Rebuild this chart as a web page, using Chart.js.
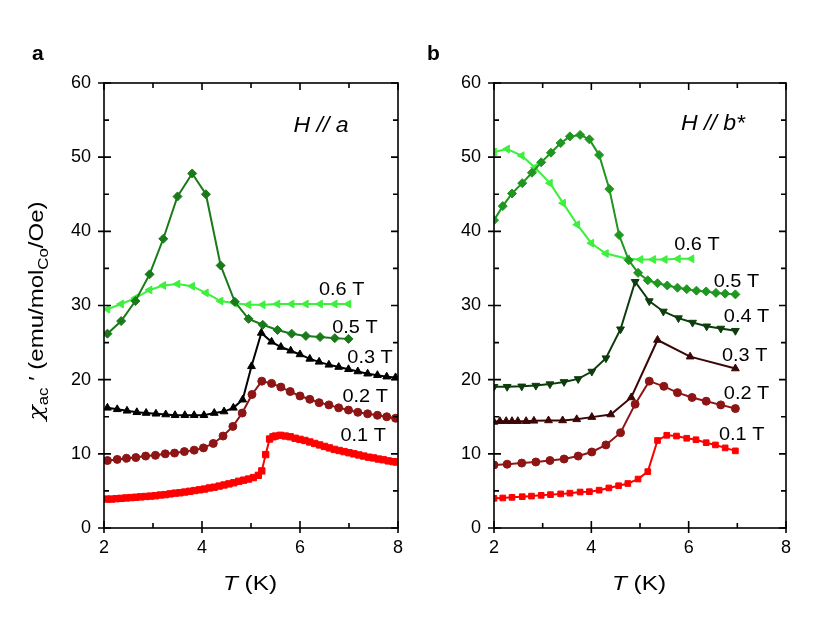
<!DOCTYPE html>
<html>
<head>
<meta charset="utf-8">
<script src="https://cdn.jsdelivr.net/npm/chart.js@4"></script>
<style>
body{margin:0;background:#fff;}
#wrap{position:relative;width:831px;height:636px;}
canvas{position:absolute;top:0;}
</style>
</head>
<body>
<div id="wrap">
<canvas id="cA" width="415" height="636" style="left:0"></canvas>
<canvas id="cB" width="416" height="636" style="left:415px"></canvas>
</div>
<script>
// panel a : H // a
var tA06 = [2.07,2.35,2.64,2.93,3.21,3.50,3.80,4.08,4.38,4.67,4.95,5.24,5.54,5.83,6.12,6.41,6.71,6.99];
var vA06 = [29.5,30.2,31.0,32.1,32.7,32.9,32.6,31.7,30.6,30.3,30.1,30.1,30.2,30.2,30.2,30.2,30.2,30.2];
var tA05 = [2.07,2.35,2.64,2.93,3.21,3.50,3.80,4.08,4.38,4.67,4.95,5.24,5.54,5.83,6.12,6.41,6.71,6.99];
var vA05 = [26.2,27.9,30.6,34.2,39.0,44.7,47.8,45.0,35.4,30.5,28.2,27.4,26.7,26.2,25.9,25.75,25.6,25.5];
var tA03 = [2.07,2.27,2.47,2.67,2.86,3.06,3.26,3.45,3.65,3.84,4.04,4.25,4.45,4.64,4.83,5.01,5.21,5.42,5.61,5.81,6.00,6.20,6.39,6.59,6.79,6.99,7.18,7.38,7.58,7.77,7.95];
var vA03 = [16.2,16.0,15.8,15.6,15.5,15.4,15.3,15.2,15.2,15.2,15.2,15.5,15.7,16.2,17.3,21.8,26.3,25.1,24.4,23.9,23.4,22.8,22.4,22.0,21.7,21.4,21.1,20.8,20.6,20.4,20.3];
var tA02 = [2.07,2.27,2.46,2.65,2.85,3.05,3.25,3.44,3.64,3.84,4.03,4.23,4.43,4.63,4.82,5.02,5.22,5.42,5.61,5.80,6.00,6.20,6.39,6.59,6.79,6.99,7.18,7.38,7.58,7.77,7.95];
var vA02 = [9.1,9.25,9.4,9.5,9.7,9.8,10.0,10.1,10.3,10.5,10.8,11.4,12.4,13.7,15.5,18.0,19.8,19.5,19.0,18.4,17.8,17.35,16.9,16.6,16.2,15.9,15.6,15.4,15.2,15.0,14.8];
var tA01 = [2.05,2.15,2.25,2.35,2.45,2.55,2.65,2.75,2.85,2.95,3.05,3.15,3.25,3.35,3.45,3.55,3.65,3.75,3.85,3.95,4.05,4.15,4.25,4.35,4.45,4.55,4.65,4.75,4.85,4.95,5.05,5.15,5.22,5.30,5.38,5.45,5.5,5.6,5.7,5.8,5.9,6.0,6.1,6.2,6.3,6.4,6.5,6.6,6.7,6.8,6.9,7.0,7.1,7.2,7.3,7.4,7.5,7.6,7.7,7.8,7.9,7.97];
var vA01 = [3.9,3.9,3.95,4.0,4.05,4.1,4.15,4.2,4.25,4.3,4.35,4.45,4.5,4.6,4.7,4.75,4.85,4.95,5.05,5.15,5.25,5.4,5.5,5.65,5.8,5.95,6.1,6.3,6.45,6.6,6.8,7.1,7.7,9.9,12.0,12.3,12.4,12.5,12.4,12.3,12.1,11.95,11.8,11.6,11.4,11.2,11.0,10.8,10.6,10.45,10.3,10.15,10.0,9.85,9.7,9.55,9.45,9.3,9.2,9.05,8.95,8.9];

// panel b : H // b*
var tB06 = [2.0,2.27,2.57,2.84,3.15,3.42,3.71,4.0,4.30,4.74,5.01,5.27,5.51,5.78,6.06];
var vB06 = [50.7,51.1,50.2,48.6,46.5,43.8,40.9,38.4,37.0,36.3,36.2,36.2,36.2,36.3,36.3];
var tB05 = [2.0,2.18,2.37,2.58,2.78,2.97,3.17,3.37,3.56,3.77,3.96,4.16,4.37,4.57,4.77,4.96,5.16,5.36,5.56,5.77,5.96,6.16,6.36,6.56,6.75,6.96];
var vB05 = [41.5,43.4,45.1,46.5,47.9,49.3,50.6,51.9,52.8,53.0,52.4,50.3,45.7,39.5,36.1,34.4,33.4,33.0,32.7,32.4,32.2,32.0,31.9,31.7,31.6,31.5];
var tB04 = [2.0,2.27,2.57,2.86,3.15,3.44,3.73,4.01,4.30,4.60,4.90,5.19,5.48,5.79,6.08,6.37,6.66,6.96];
var vB04 = [19.05,19.05,19.1,19.2,19.4,19.7,20.1,21.1,22.9,26.8,33.2,30.6,29.2,28.3,27.7,27.2,26.9,26.6];
var tB03 = [2.0,2.12,2.25,2.37,2.49,2.66,2.82,3.12,3.41,3.70,4.01,4.40,4.82,5.36,6.03,6.96];
var vB03 = [14.3,14.4,14.4,14.4,14.4,14.4,14.45,14.5,14.5,14.65,14.95,15.3,17.6,25.35,23.1,21.5];
var tB02 = [2.0,2.27,2.57,2.86,3.15,3.44,3.73,4.01,4.30,4.60,4.90,5.19,5.49,5.77,6.07,6.36,6.66,6.96];
var vB02 = [8.5,8.6,8.75,8.9,9.1,9.3,9.7,10.25,11.2,12.85,16.7,19.8,19.1,18.25,17.6,17.1,16.6,16.1];
var tB01 = [2.0,2.18,2.37,2.58,2.77,2.97,3.16,3.37,3.56,3.77,3.96,4.16,4.36,4.56,4.75,4.96,5.16,5.36,5.55,5.75,5.96,6.15,6.36,6.55,6.75,6.96];
var vB01 = [4.0,4.05,4.13,4.22,4.3,4.4,4.5,4.6,4.7,4.85,4.9,5.1,5.4,5.7,6.0,6.6,7.6,11.8,12.5,12.4,12.1,11.9,11.5,11.2,10.8,10.4];

var fieldLabels = ['0.1 T','0.2 T','0.3 T','0.4 T','0.5 T','0.6 T'];
var xTicks = [2,4,6,8];
var yTicks = [0,10,20,30,40,50,60];

var FONT = '"Liberation Sans", Arial, sans-serif';

function pts(t, v){
  return t.map(function(x,i){ return {x:x, y:v[i]}; });
}

function ds(t, v, color, style, rot, r){
  return {
    data: pts(t, v),
    borderColor: color, backgroundColor: color,
    borderWidth: 2,
    pointStyle: style, pointRotation: rot || 0,
    pointRadius: r || 4, pointBorderWidth: 1,
    tension: 0, fill: false
  };
}

// text made of pieces (italic, subscript ...), stretched by sx
function drawRich(ctx, parts, x, y, sx){
  sx = sx || 1;
  var w = 0;
  parts.forEach(function(p){ ctx.font = p.f; w += ctx.measureText(p.t).width; });
  ctx.save();
  ctx.translate(x, y);
  ctx.scale(sx, 1);
  var cx = -w/2;
  parts.forEach(function(p){
    ctx.font = p.f;
    ctx.fillText(p.t, cx, p.dy || 0);
    cx += ctx.measureText(p.t).width;
  });
  ctx.restore();
}

var framePlugin = {
  id: 'frame',
  afterDraw: function(chart){
    var ctx = chart.ctx, a = chart.chartArea;
    var xs = chart.scales.x, ys = chart.scales.y;
    var o = chart.options.plugins.frame;
    ctx.save();
    ctx.strokeStyle = '#000';
    ctx.lineWidth = 1.6;
    ctx.strokeRect(a.left, a.top, a.right - a.left, a.bottom - a.top);
    var t, px, len;
    for (t = 2; t <= 8; t += 1){
      px = xs.getPixelForValue(t);
      len = t % 2 === 0 ? 7 : 5;
      ctx.beginPath();
      ctx.moveTo(px, a.bottom + (t % 2 === 0 ? 5 : 0)); ctx.lineTo(px, a.bottom - len);
      ctx.moveTo(px, a.top); ctx.lineTo(px, a.top + len);
      ctx.stroke();
    }
    for (t = 0; t <= 60; t += 5){
      px = ys.getPixelForValue(t);
      len = t % 10 === 0 ? 7 : 5;
      ctx.beginPath();
      ctx.moveTo(a.left - (t % 10 === 0 ? 6 : 0), px); ctx.lineTo(a.left + len, px);
      ctx.moveTo(a.right, px); ctx.lineTo(a.right - len, px);
      ctx.stroke();
    }
    ctx.fillStyle = '#000';
    ctx.textBaseline = 'alphabetic';
    ctx.textAlign = 'left';
    // field labels
    o.labels.forEach(function(l){
      drawRich(ctx, [{t: l.t, f: '19px ' + FONT}], xs.getPixelForValue(l.x), ys.getPixelForValue(l.y) + 7, 1.05);
    });
    // orientation text
    drawRich(ctx, o.dir, xs.getPixelForValue(o.dirPos[0]), ys.getPixelForValue(o.dirPos[1]), 1.05);
    // panel letter
    ctx.font = 'bold 21px ' + FONT;
    ctx.fillText(o.letter, o.letterPos[0], o.letterPos[1]);
    // x title
    drawRich(ctx, [
      {t:'T', f:'italic 20px ' + FONT},
      {t:' (K)', f:'20px ' + FONT}
    ], (a.left + a.right)/2 - 1, 590, 1.22);
    // y title
    if (o.yTitle){
      ctx.translate(43, 311);
      ctx.rotate(-Math.PI/2);
      drawRich(ctx, [
        {t:'\u03c7', f:'italic 21px "DejaVu Serif", serif'},
        {t:'ac', f:'14px ' + FONT, dy:5},
        {t:' \u2032 (emu/mol', f:'20px ' + FONT},
        {t:'Co', f:'14px ' + FONT, dy:5},
        {t:'/Oe)', f:'20px ' + FONT}
      ], 0, 0, 1.2);
    }
    ctx.restore();
  }
};

function makeChart(id, datasets, yw, padRight, frame){
  return new Chart(document.getElementById(id), {
    type: 'line',
    data: {datasets: datasets},
    options: {
      responsive: false,
      animation: false,
      layout: {padding: {top: 83, right: padRight, left: 0, bottom: 0}},
      plugins: {legend: {display: false}, tooltip: {enabled: false}, frame: frame},
      scales: {
        x: {
          type: 'linear', min: 2, max: 8,
          afterBuildTicks: function(s){ s.ticks = xTicks.map(function(v){ return {value: v}; }); },
          ticks: {color: '#000', font: {size: 18, family: FONT}, padding: 9, maxRotation: 0},
          grid: {display: false, drawTicks: false},
          border: {display: false},
          afterFit: function(s){ s.height = 108; }
        },
        y: {
          type: 'linear', min: 0, max: 60,
          afterBuildTicks: function(s){ s.ticks = yTicks.map(function(v){ return {value: v}; }); },
          ticks: {color: '#000', font: {size: 18, family: FONT}, padding: 13},
          grid: {display: false, drawTicks: false},
          border: {display: false},
          afterFit: function(s){ s.width = yw; }
        }
      }
    },
    plugins: [framePlugin]
  });
}

var RED = '#ff0000', DRED = '#8e1515', LGREEN = '#3cf03c';

makeChart('cA', [
  ds(tA01, vA01, RED, 'rect', 0, 4.5),
  ds(tA02, vA02, DRED, 'circle', 0, 4),
  ds(tA03, vA03, '#000000', 'triangle', 0, 4.5),
  ds(tA05, vA05, '#1a7a1a', 'rectRot', 0, 4.5),
  ds(tA06, vA06, LGREEN, 'triangle', 270, 4.5)
], 104, 17, {
  letter: 'a', letterPos: [32, 60], yTitle: true,
  dir: [{t:'H // a', f:'italic 22px ' + FONT}], dirPos: [6.43, 53.4],
  labels: [
    {t: fieldLabels[5], x: 6.85, y: 32.3},
    {t: fieldLabels[4], x: 7.12, y: 27.2},
    {t: fieldLabels[2], x: 7.43, y: 23.2},
    {t: fieldLabels[1], x: 7.33, y: 17.9},
    {t: fieldLabels[0], x: 7.29, y: 12.7}
  ]
});

makeChart('cB', [
  ds(tB01, vB01, RED, 'rect', 0, 4),
  ds(tB02, vB02, DRED, 'circle', 0, 4),
  ds(tB03, vB03, '#3d0606', 'triangle', 0, 4.5),
  ds(tB04, vB04, '#0d3d0d', 'triangle', 180, 4.5),
  ds(tB05, vB05, '#1f961f', 'rectRot', 0, 4.5),
  ds(tB06, vB06, LGREEN, 'triangle', 270, 4.5)
], 79, 45, {
  letter: 'b', letterPos: [12, 60], yTitle: false,
  dir: [{t:'H // b*', f:'italic 22px ' + FONT}], dirPos: [6.5, 53.6],
  labels: [
    {t: fieldLabels[5], x: 6.17, y: 38.4},
    {t: fieldLabels[4], x: 6.98, y: 33.5},
    {t: fieldLabels[3], x: 7.19, y: 28.7},
    {t: fieldLabels[2], x: 7.15, y: 23.4},
    {t: fieldLabels[1], x: 7.19, y: 18.4},
    {t: fieldLabels[0], x: 7.09, y: 12.8}
  ]
});
</script>
</body>
</html>
